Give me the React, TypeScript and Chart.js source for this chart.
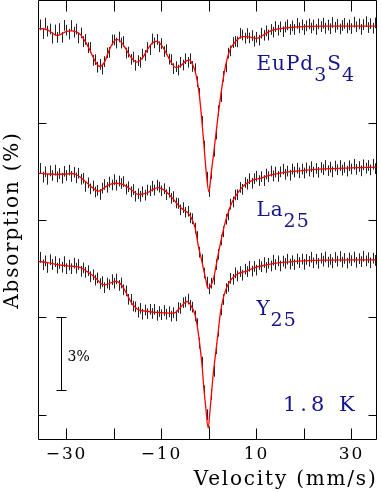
import React, { useEffect, useRef } from 'react';
import { Chart, registerables } from 'chart.js';

Chart.register(...registerables);

// ---- data (velocity in mm/s, absorption axis in %) ----
const VELOCITY = [
  -35.5, -35, -34.5, -34, -33.5, -33, -32.5, -32, -31.5, -31,
  -30.5, -30, -29.5, -29, -28.5, -28, -27.5, -27, -26.5, -26,
  -25.5, -25, -24.5, -24, -23.5, -23, -22.5, -22, -21.5, -21,
  -20.5, -20, -19.5, -19, -18.5, -18, -17.5, -17, -16.5, -16,
  -15.5, -15, -14.5, -14, -13.5, -13, -12.5, -12, -11.5, -11,
  -10.5, -10, -9.5, -9, -8.5, -8, -7.5, -7, -6.5, -6,
  -5.5, -5, -4.5, -4, -3.5, -3, -2.5, -2, -1.5, -1,
  -0.5, 0, 0.5, 1, 1.5, 2, 2.5, 3, 3.5, 4,
  4.5, 5, 5.5, 6, 6.5, 7, 7.5, 8, 8.5, 9,
  9.5, 10, 10.5, 11, 11.5, 12, 12.5, 13, 13.5, 14,
  14.5, 15, 15.5, 16, 16.5, 17, 17.5, 18, 18.5, 19,
  19.5, 20, 20.5, 21, 21.5, 22, 22.5, 23, 23.5, 24,
  24.5, 25, 25.5, 26, 26.5, 27, 27.5, 28, 28.5, 29,
  29.5, 30, 30.5, 31, 31.5, 32, 32.5, 33, 33.5, 34,
  34.5, 35,
];

const EUPD3S4_DATA = [
  17.02, 16.66, 17.09, 16.76, 16.85, 16.47, 16.81, 16.50, 16.87, 16.51,
  17.00, 16.80, 16.64, 16.99, 16.72, 16.85, 16.48, 16.69, 16.33, 16.42,
  16.08, 16.09, 15.56, 15.59, 15.28, 15.40, 15.20, 15.51, 15.87, 15.89,
  16.40, 16.40, 16.27, 16.52, 16.27, 16.34, 15.86, 15.90, 15.60, 15.70,
  15.36, 15.55, 15.48, 15.82, 15.76, 16.09, 16.00, 16.44, 16.28, 16.42,
  16.12, 16.25, 15.92, 16.00, 15.61, 15.59, 15.22, 15.30, 15.16, 15.48,
  15.37, 15.63, 15.48, 15.63, 15.31, 15.22, 14.68, 14.20, 13.05, 12.04,
  10.76, 10.17, 10.91, 11.82, 12.53, 13.49, 14.07, 14.90, 15.29, 15.86,
  15.95, 16.29, 16.34, 16.32, 16.67, 16.60, 16.47, 16.66, 16.48, 16.58,
  16.35, 16.51, 16.39, 16.68, 16.59, 16.77, 16.60, 16.83, 16.72, 16.95,
  16.80, 16.94, 16.74, 16.93, 17.02, 16.83, 16.98, 16.83, 17.08, 16.90,
  17.02, 16.83, 16.98, 17.06, 16.89, 17.01, 16.83, 17.06, 16.95, 17.09,
  16.88, 17.01, 16.86, 17.12, 16.92, 17.04, 16.85, 16.99, 17.08, 16.89,
  17.02, 16.87, 17.13, 16.94, 17.06, 16.83, 17.03, 17.15, 16.91, 17.07,
  16.88, 17.10,
];

const LA25_DATA = [
  11.12, 10.76, 10.98, 10.67, 11.02, 10.83, 11.05, 10.77, 10.91, 10.72,
  11.00, 10.83, 11.05, 10.79, 10.96, 10.73, 10.92, 10.67, 10.72, 10.38,
  10.53, 10.28, 10.40, 10.15, 10.22, 10.05, 10.31, 10.46, 10.34, 10.56,
  10.44, 10.66, 10.43, 10.60, 10.50, 10.58, 10.27, 10.37, 10.16, 10.25,
  9.98, 10.08, 9.97, 10.16, 10.02, 10.23, 10.20, 10.39, 10.23, 10.43,
  10.35, 10.20, 10.29, 10.04, 10.14, 9.89, 9.96, 9.70, 9.68, 9.42,
  9.51, 9.32, 9.36, 9.09, 9.05, 8.66, 8.32, 7.68, 7.37, 6.82,
  6.45, 6.17, 6.40, 6.56, 7.17, 7.59, 8.18, 8.52, 9.03, 9.21,
  9.65, 9.74, 10.03, 10.04, 10.34, 10.26, 10.54, 10.47, 10.70, 10.51,
  10.70, 10.80, 10.62, 10.78, 10.62, 10.89, 10.78, 11.01, 10.81, 10.97,
  10.79, 10.98, 11.09, 10.88, 11.01, 10.84, 11.09, 10.97, 11.13, 10.94,
  11.09, 10.93, 11.14, 11.01, 11.19, 10.97, 11.12, 10.96, 11.16, 11.07,
  11.24, 11.03, 11.17, 10.98, 11.22, 11.07, 11.24, 11.05, 11.16, 11.01,
  11.23, 11.10, 11.29, 11.08, 11.20, 11.02, 11.27, 11.13, 11.24, 11.06,
  11.29, 11.11,
];

const Y25_DATA = [
  7.47, 7.16, 7.32, 7.05, 7.37, 7.17, 7.29, 7.02, 7.21, 7.06,
  7.29, 7.00, 7.15, 7.00, 7.23, 7.02, 7.17, 6.89, 7.03, 6.85,
  6.92, 6.67, 6.75, 6.53, 6.62, 6.39, 6.47, 6.22, 6.41, 6.34,
  6.55, 6.40, 6.58, 6.31, 6.41, 6.13, 6.09, 5.74, 5.74, 5.46,
  5.43, 5.21, 5.37, 5.13, 5.30, 5.15, 5.33, 5.16, 5.33, 5.08,
  5.24, 5.11, 5.28, 5.13, 5.23, 5.05, 5.19, 5.06, 5.40, 5.37,
  5.60, 5.63, 5.75, 5.49, 5.42, 5.06, 4.74, 3.94, 3.16, 1.98,
  1.00, 0.30, 1.83, 2.78, 3.71, 4.43, 5.31, 5.73, 6.18, 6.27,
  6.60, 6.56, 6.83, 6.70, 6.88, 6.73, 6.98, 6.88, 7.10, 6.90,
  7.09, 6.94, 7.17, 7.08, 7.25, 7.05, 7.22, 7.11, 7.35, 7.17,
  7.32, 7.11, 7.31, 7.22, 7.39, 7.19, 7.33, 7.17, 7.40, 7.25,
  7.39, 7.18, 7.38, 7.30, 7.47, 7.24, 7.39, 7.22, 7.43, 7.31,
  7.48, 7.27, 7.38, 7.24, 7.46, 7.31, 7.50, 7.27, 7.42, 7.23,
  7.44, 7.33, 7.48, 7.26, 7.41, 7.29, 7.51, 7.32, 7.45, 7.24,
  7.43, 7.34,
];

const ERROR_BAR = 0.22;

// fitted curves (velocity knots, value)
const EUPD3S4_FIT_V = [
  -36, -35, -34, -33, -32, -31, -30, -29, -28, -27, -26, -25, -24, -23, -22, -21, -20,
  -19.4, -18.5, -17.5, -16.5, -15.2,
  -14, -13, -12, -11, -10, -9, -8, -7, -6, -5,
  -4.1, -3.5, -3, -2.5, -2, -1.5, -1, -0.5, 0, 0.5, 1, 1.5, 2, 2.5, 3, 3.5, 4, 4.5, 5,
  6, 7, 8, 9, 10, 11, 12, 13, 14,
  16, 18, 21, 25, 30, 35.5,
];
const EUPD3S4_FIT_Y = [
  16.87, 16.86, 16.81, 16.69, 16.58, 16.65, 16.75, 16.77, 16.73, 16.61, 16.32, 15.95, 15.54, 15.31, 15.49, 15.99, 16.34,
  16.42, 16.32, 16.03, 15.70, 15.49,
  15.66, 15.99, 16.26, 16.34, 16.19, 15.86, 15.49, 15.27, 15.33, 15.51,
  15.58, 15.41, 15.17, 14.76, 14.10, 13.11, 11.96, 10.81, 10.15, 10.97, 11.75, 12.58, 13.40, 14.14, 14.80, 15.33, 15.74, 16.03, 16.19,
  16.42, 16.54, 16.54, 16.50, 16.46, 16.54, 16.67, 16.77, 16.83,
  16.89, 16.93, 16.96, 16.97, 16.97, 16.97,
];

const LA25_FIT_V = [
  -36, -34, -32, -30, -29, -28, -27, -26, -25, -24,
  -23.3, -22.5, -21.5, -20.5, -19.8, -18.5, -17.3, -16, -14.9, -13.8,
  -12.8, -11.7, -10.7, -9.6, -8.6, -7.5, -6.5, -5.5, -4.4, -3.6,
  -2.9, -2.2, -1.6, -1.1, -0.6, -0.2, 0.3, 1, 1.5, 2,
  2.7, 3.4, 4.1, 4.8, 5.5, 6.2, 7, 7.6, 8.5, 9.4,
  10.8, 12, 13.1, 15, 17.3, 20, 24.3, 30, 35.5,
];
const LA25_FIT_Y = [
  10.93, 10.89, 10.87, 10.89, 10.91, 10.87, 10.75, 10.58, 10.40, 10.25,
  10.19, 10.25, 10.40, 10.48, 10.51, 10.48, 10.37, 10.19, 10.05, 10.07,
  10.13, 10.27, 10.33, 10.25, 10.09, 9.86, 9.62, 9.43, 9.29, 9.04,
  8.67, 7.90, 7.40, 6.95, 6.49, 6.19, 6.25, 6.62, 7.11, 7.64,
  8.30, 8.88, 9.33, 9.70, 9.95, 10.15, 10.34, 10.46, 10.56, 10.65,
  10.71, 10.79, 10.85, 10.93, 10.99, 11.04, 11.10, 11.14, 11.17,
];

const Y25_FIT_V = [
  -36, -34, -32, -30, -28.9, -27.5, -26.5, -25.5, -24.7, -23.6,
  -22.6, -21.9, -21.2, -20.3, -19.5, -18.7, -18, -17.2, -16.3, -15.5,
  -14.9, -13.5, -12.1, -10.7, -9.3, -8.2, -7.2, -6.5, -5.8, -5.2,
  -4.6, -4, -3.5, -3.2, -2.8, -2.5, -2.1, -1.8, -1.4, -1.1,
  -0.7, -0.15, 0.2, 0.6, 1, 1.5, 2, 2.4, 3.1, 3.8,
  4.8, 6.2, 7.6, 9, 10.3, 12, 13.8, 17, 20.8, 25,
  30, 35.5,
];
const Y25_FIT_Y = [
  7.30, 7.25, 7.17, 7.12, 7.10, 7.07, 6.99, 6.86, 6.75, 6.56,
  6.37, 6.34, 6.37, 6.45, 6.48, 6.39, 6.21, 5.92, 5.59, 5.41,
  5.31, 5.26, 5.22, 5.20, 5.18, 5.17, 5.18, 5.30, 5.45, 5.59,
  5.65, 5.55, 5.38, 5.26, 5.01, 4.69, 4.15, 3.66, 2.92, 2.15,
  1.36, 0.45, 1.11, 2.01, 2.84, 3.66, 4.48, 5.17, 5.85, 6.26,
  6.58, 6.80, 6.88, 6.99, 7.08, 7.15, 7.22, 7.28, 7.33, 7.35,
  7.36, 7.36,
];

const X_MIN = -36;
const X_MAX = 35.5;
const Y_MIN = 0;
const Y_MAX = 18;
const X_TICKS = [-30, -20, -10, 0, 10, 20, 30];
const X_LABELS = [-30, -10, 10, 30];
const Y_TICKS = [1, 5, 9, 13];

const SCALE_BAR = { velocity: -31.1, from: 2, to: 5, label: '3%' };

const ANNOTATIONS = [
  { v: 10.0, y: 15.17, parts: [{ t: 'EuPd' }, { t: '3', sub: true }, { t: 'S' }, { t: '4', sub: true }] },
  { v: 10.0, y: 9.17, parts: [{ t: 'La' }, { t: '25', sub: true }] },
  { v: 10.0, y: 5.1, parts: [{ t: 'Y' }, { t: '25', sub: true }] },
];
const TEMPERATURE = { v: 15.6, y: 1.16, text: '1.8 K' };

const FONT = "'DejaVu Serif', serif";
const BLUE = '#14148c';

const toPoints = (xs: number[], ys: number[]) => xs.map((x, i) => ({ x, y: ys[i] }));
const fmt = (v: number) => (v < 0 ? '\u2212' + Math.abs(v) : String(v));

const spectraPlugin = {
  id: 'spectra',
  beforeDraw(chart: any) {
    chart.ctx.letterSpacing = '1.8px';
  },
  beforeDatasetsDraw(chart: any) {
    const ctx = chart.ctx;
    ctx.letterSpacing = '0px';
    const ys = chart.scales.y;
    const a = chart.chartArea;
    ctx.save();
    ctx.beginPath();
    ctx.rect(a.left, a.top, a.right - a.left, a.bottom - a.top);
    ctx.clip();
    ctx.strokeStyle = '#222';
    ctx.lineWidth = 1;
    chart.data.datasets.forEach((ds: any, i: number) => {
      if (!ds.errorBar) return;
      const meta = chart.getDatasetMeta(i);
      meta.data.forEach((pt: any, j: number) => {
        const val = ds.data[j].y;
        const y1 = ys.getPixelForValue(val - ds.errorBar);
        const y2 = ys.getPixelForValue(val + ds.errorBar);
        const x = Math.round(pt.x) + 0.5;
        ctx.beginPath();
        ctx.moveTo(x, y1);
        ctx.lineTo(x, y2);
        ctx.stroke();
      });
    });
    ctx.restore();
  },
  afterDraw(chart: any) {
    const ctx = chart.ctx;
    const xs = chart.scales.x;
    const ys = chart.scales.y;
    const a = chart.chartArea;
    ctx.save();
    ctx.letterSpacing = '0px';
    ctx.strokeStyle = '#000';
    ctx.lineWidth = 1;
    const L = Math.floor(a.left) + 0.5;
    const R = Math.floor(a.right) - 0.5;
    const T = Math.floor(a.top) - 0.5;
    const B = Math.floor(a.bottom) + 0.5;
    ctx.beginPath();
    ctx.rect(L, T, R - L, B - T);
    ctx.stroke();
    // x ticks (inward, top and bottom)
    xs.ticks.forEach((t: any) => {
      const x = Math.round(xs.getPixelForValue(t.value)) + 0.5;
      ctx.beginPath();
      ctx.moveTo(x, B);
      ctx.lineTo(x, B - 11);
      ctx.moveTo(x, T);
      ctx.lineTo(x, T + 11);
      ctx.stroke();
    });
    // y ticks (inward, left and right)
    ys.ticks.forEach((t: any) => {
      const y = Math.round(ys.getPixelForValue(t.value)) + 0.5;
      ctx.beginPath();
      ctx.moveTo(L, y);
      ctx.lineTo(L + 8, y);
      ctx.moveTo(R, y);
      ctx.lineTo(R - 8, y);
      ctx.stroke();
    });
    // 3% scale bar
    const bx = Math.round(xs.getPixelForValue(SCALE_BAR.velocity)) + 0.5;
    const by1 = Math.round(ys.getPixelForValue(SCALE_BAR.to)) + 0.5;
    const by2 = Math.round(ys.getPixelForValue(SCALE_BAR.from)) + 0.5;
    ctx.beginPath();
    ctx.moveTo(bx, by1);
    ctx.lineTo(bx, by2);
    ctx.moveTo(bx - 5, by1);
    ctx.lineTo(bx + 5, by1);
    ctx.moveTo(bx - 5, by2);
    ctx.lineTo(bx + 5, by2);
    ctx.stroke();
    ctx.fillStyle = '#000';
    ctx.font = `14px ${FONT}`;
    ctx.textBaseline = 'middle';
    ctx.textAlign = 'left';
    ctx.fillText(SCALE_BAR.label, bx + 6, (by1 + by2) / 2 + 3);

    // sample labels
    ctx.fillStyle = BLUE;
    ctx.textBaseline = 'alphabetic';
    ctx.letterSpacing = '1px';
    ANNOTATIONS.forEach((lab) => {
      let x = xs.getPixelForValue(lab.v);
      const base = ys.getPixelForValue(lab.y);
      lab.parts.forEach((p: any) => {
        ctx.font = `${p.sub ? 19 : 20}px ${FONT}`;
        ctx.fillText(p.t, x, base + (p.sub ? 11 : 0));
        x += ctx.measureText(p.t).width;
      });
    });
    ctx.letterSpacing = '4px';
    ctx.font = `21px ${FONT}`;
    ctx.fillText(TEMPERATURE.text, xs.getPixelForValue(TEMPERATURE.v), ys.getPixelForValue(TEMPERATURE.y));
    ctx.restore();
  },
};

export default function App() {
  const ref = useRef<HTMLCanvasElement | null>(null);
  useEffect(() => {
    if (!ref.current) return;
    Chart.defaults.font.family = FONT;
    const series = [
      { data: EUPD3S4_DATA, fitV: EUPD3S4_FIT_V, fitY: EUPD3S4_FIT_Y, name: 'EuPd3S4' },
      { data: LA25_DATA, fitV: LA25_FIT_V, fitY: LA25_FIT_Y, name: 'La25' },
      { data: Y25_DATA, fitV: Y25_FIT_V, fitY: Y25_FIT_Y, name: 'Y25' },
    ];
    const datasets: any[] = [];
    series.forEach((s) => {
      datasets.push({
        label: s.name + ' data',
        data: toPoints(VELOCITY, s.data),
        showLine: false,
        pointRadius: 0,
        pointHoverRadius: 0,
        errorBar: ERROR_BAR,
      });
    });
    series.forEach((s) => {
      datasets.push({
        label: s.name + ' fit',
        data: toPoints(s.fitV, s.fitY),
        showLine: true,
        borderColor: '#ff0000',
        borderWidth: 1.3,
        pointRadius: 0,
        cubicInterpolationMode: 'monotone',
        fill: false,
      });
    });
    const chart = new Chart(ref.current, {
      type: 'scatter',
      data: { datasets },
      options: {
        animation: false,
        responsive: false,
        events: [],
        layout: { padding: { left: 0, right: 4.5, top: 1, bottom: 0 } },
        plugins: { legend: { display: false }, tooltip: { enabled: false } },
        scales: {
          x: {
            type: 'linear',
            min: X_MIN,
            max: X_MAX,
            afterBuildTicks: (s: any) => {
              s.ticks = X_TICKS.map((v) => ({ value: v }));
            },
            afterFit: (s: any) => {
              s.height = 53;
            },
            grid: { display: false, drawTicks: false },
            border: { display: false },
            ticks: {
              autoSkip: false,
              maxRotation: 0,
              padding: 5,
              color: '#000',
              font: { size: 17, family: FONT },
              callback: (v: any) => (X_LABELS.includes(Number(v)) ? fmt(Number(v)) : ''),
            },
            title: {
              display: true,
              text: 'Velocity (mm/s)',
              align: 'end',
              color: '#000',
              font: { size: 20, family: FONT },
              padding: { top: 0, bottom: 0 },
            },
          },
          y: {
            type: 'linear',
            min: Y_MIN,
            max: Y_MAX,
            afterBuildTicks: (s: any) => {
              s.ticks = Y_TICKS.map((v) => ({ value: v }));
            },
            afterFit: (s: any) => {
              s.width = 38;
            },
            grid: { display: false, drawTicks: false },
            border: { display: false },
            ticks: { display: false },
            title: {
              display: true,
              text: 'Absorption (%)',
              color: '#000',
              font: { size: 20, family: FONT },
              padding: { top: 1, bottom: 0 },
            },
          },
        },
      },
      plugins: [spectraPlugin],
    } as any);
    return () => chart.destroy();
  }, []);
  return (
    <div style={{ position: 'fixed', left: 0, top: 0, width: 382, height: 492, background: '#fff' }}>
      <canvas ref={ref} width={382} height={492} style={{ display: 'block' }} />
    </div>
  );
}
